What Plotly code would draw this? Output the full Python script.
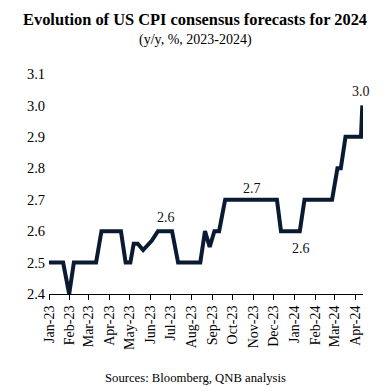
import plotly.graph_objects as go

dates = ["2023-01-01", "2023-01-22", "2023-01-31", "2023-02-07", "2023-03-12", "2023-03-20",
         "2023-04-18", "2023-04-25", "2023-05-02", "2023-05-07", "2023-05-13", "2023-05-21",
         "2023-06-03", "2023-06-12", "2023-07-03", "2023-07-12", "2023-08-14", "2023-08-21",
         "2023-08-28", "2023-09-04", "2023-09-11", "2023-09-20", "2023-12-06", "2023-12-12",
         "2024-01-09", "2024-01-16", "2024-02-26", "2024-03-05", "2024-03-10", "2024-03-17",
         "2024-04-09", "2024-04-11"]
values = [2.5, 2.5, 2.4, 2.5, 2.5, 2.6,
          2.6, 2.5, 2.5, 2.56, 2.56, 2.54,
          2.57, 2.6, 2.6, 2.5, 2.5, 2.6,
          2.55, 2.6, 2.6, 2.7, 2.7, 2.6,
          2.6, 2.7, 2.7, 2.8, 2.8, 2.9,
          2.9, 3.0]

tick_dates = ["2023-01-01", "2023-02-01", "2023-03-01", "2023-04-01", "2023-05-01", "2023-06-01",
              "2023-07-01", "2023-08-01", "2023-09-01", "2023-10-01", "2023-11-01", "2023-12-01",
              "2024-01-01", "2024-02-01", "2024-03-01", "2024-04-01"]
tick_labels = ["Jan-23", "Feb-23", "Mar-23", "Apr-23", "May-23", "Jun-23", "Jul-23", "Aug-23",
               "Sep-23", "Oct-23", "Nov-23", "Dec-23", "Jan-24", "Feb-24", "Mar-24", "Apr-24"]

y_ticks = [2.4, 2.5, 2.6, 2.7, 2.8, 2.9, 3.0, 3.1]

label_dates = ["2023-06-24", "2023-10-30", "2024-01-11", "2024-04-09"]
label_values = [2.6, 2.7, 2.6, 3.0]
label_y = [2.642, 2.737, 2.544, 3.044]

FONT = "Liberation Serif"
LINE = "#0b1a33"

fig = go.Figure()
fig.add_trace(go.Scatter(x=dates, y=values, mode="lines",
                         line=dict(color=LINE, width=4), hoverinfo="skip"))

for d, v, yy in zip(label_dates, label_values, label_y):
    fig.add_annotation(x=d, y=yy, text=f"{v:.1f}", showarrow=False,
                       xanchor="center", yanchor="middle",
                       font=dict(family=FONT, size=14, color="#111111"))

common = dict(xref="paper", yref="paper", showarrow=False, xanchor="center", yanchor="middle")
fig.add_annotation(x=0.465, y=1.2455,
                   text="<b>Evolution of US CPI consensus forecasts for 2024</b>",
                   font=dict(family=FONT, size=16.4, color="#000000"), **common)
fig.add_annotation(x=0.465, y=1.1545,
                   text="(y/y, %, 2023-2024)",
                   font=dict(family=FONT, size=14, color="#000000"), **common)
fig.add_annotation(x=0.465, y=-0.382,
                   text="Sources: Bloomberg, QNB analysis",
                   font=dict(family=FONT, size=12.7, color="#000000"), **common)

# page body has an 8px margin, so compensate in the figure margins
fig.update_layout(
    width=390, height=392,
    margin=dict(l=41, r=35, t=66, b=106, autoexpand=False),
    paper_bgcolor="white", plot_bgcolor="white",
    showlegend=False,
    font=dict(family=FONT, color="#000000"),
)
fig.update_xaxes(
    type="date", range=["2023-01-01", "2024-04-12"],
    tickvals=tick_dates, ticktext=tick_labels, tickangle=-90,
    ticks="outside", ticklen=5, tickcolor="#000000", tickwidth=1,
    showline=True, linecolor="#000000", linewidth=1,
    showgrid=False, zeroline=False, automargin=False,
    tickfont=dict(family=FONT, size=14, color="#000000"),
)
fig.update_yaxes(
    range=[2.4, 3.1], tickvals=y_ticks, ticktext=[f"{v:.1f}" for v in y_ticks],
    showgrid=False, zeroline=False, showline=False, ticks="",
    ticklabelstandoff=3, automargin=False,
    tickfont=dict(family=FONT, size=14.5, color="#000000"),
)

fig.write_html("out.html")
